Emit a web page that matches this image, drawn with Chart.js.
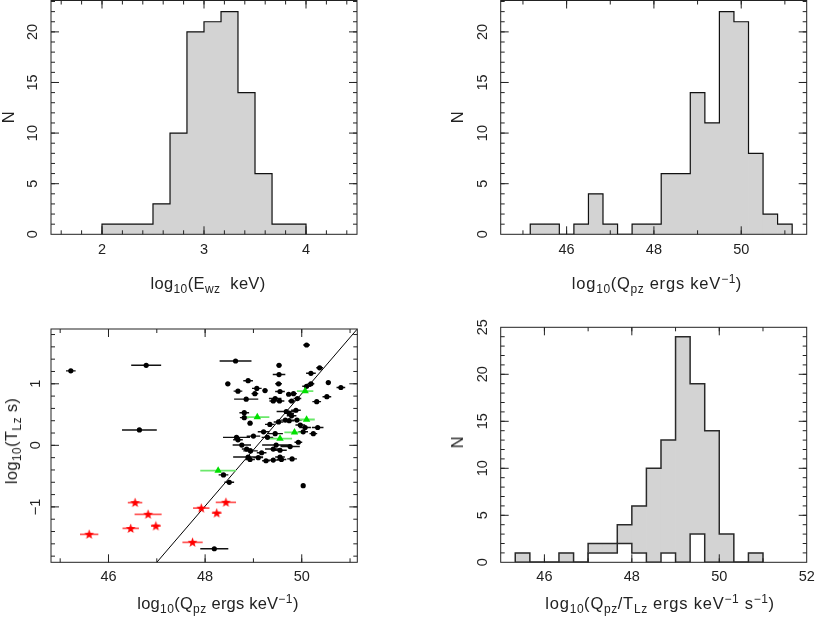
<!DOCTYPE html>
<html><head><meta charset="utf-8">
<script src="https://cdn.jsdelivr.net/npm/chart.js@4.4.1/dist/chart.umd.min.js"></script>
<style>
html,body{margin:0;padding:0;background:#fff;}
#wrap{position:relative;width:817px;height:626px;overflow:hidden;font-family:"Liberation Sans",Arial,sans-serif;color:#222;}
canvas{position:absolute;}
.t{position:absolute;font-size:16.5px;letter-spacing:0.8px;white-space:nowrap;transform:translate(-50%,-50%);line-height:18px;}
.t sub,.t sup{font-size:12px;line-height:0;letter-spacing:0.5px;}
.t sub{vertical-align:-4px;}
.t sup{vertical-align:6px;}
.r{transform:translate(-50%,-50%) rotate(-90deg);}
</style></head><body><div id="wrap">
<canvas id="c1" width="408" height="300" style="left:0;top:0"></canvas>
<canvas id="c2" width="409" height="300" style="left:408px;top:0"></canvas>
<canvas id="c3" width="408" height="326" style="left:0;top:300px"></canvas>
<canvas id="c4" width="409" height="326" style="left:408px;top:300px"></canvas>
<div class="t" style="left:208px;top:283px;letter-spacing:0.3px">log<sub>10</sub>(E<sub>wz</sub>&nbsp; keV)</div>
<div class="t" style="left:657px;top:283px">log<sub>10</sub>(Q<sub>pz</sub> ergs keV<sup>−1</sup>)</div>
<div class="t" style="left:218px;top:603px;letter-spacing:0.2px">log<sub>10</sub>(Q<sub>pz</sub> ergs keV<sup>−1</sup>)</div>
<div class="t" style="left:660px;top:603px">log<sub>10</sub>(Q<sub>pz</sub>/T<sub>Lz</sub> ergs keV<sup>−1</sup> s<sup>−1</sup>)</div>
<div class="t r" style="left:8px;top:117px">N</div>
<div class="t r" style="left:457px;top:117px">N</div>
<div class="t r" style="left:457px;top:442px">N</div>
<div class="t r" style="left:11px;top:441px;letter-spacing:0.3px">log<sub>10</sub>(T<sub>Lz</sub> s)</div>
</div>
<script>
// ---------- DATA ----------
// Panel 1: histogram of log10(E_wz keV)
const p1Edges  = [2.000, 2.167, 2.333, 2.500, 2.667, 2.833, 3.000, 3.167, 3.333, 3.500, 3.667, 3.833, 4.000];
const p1Counts = [1, 1, 1, 3, 10, 20, 21, 22, 14, 6, 1, 1];
const p1XTicks = [2, 3, 4];
const p1XLabels = ['2', '3', '4'];
const p1YTicks = [0, 5, 10, 15, 20];
const p1YLabels = ['0', '5', '10', '15', '20'];

// Panel 2: histogram of log10(Q_pz)
const p2Edges  = [45.167, 45.500, 45.833, 46.167, 46.500, 46.833, 47.167, 47.500, 47.833, 48.167,
                  48.500, 48.833, 49.167, 49.500, 49.833, 50.167, 50.500, 50.833, 51.167];
const p2Counts = [1, 1, 0, 1, 4, 1, 0, 1, 1, 6, 6, 14, 11, 22, 21, 8, 2, 1];
const p2XTicks = [46, 48, 50];
const p2XLabels = ['46', '48', '50'];
const p2YTicks = [0, 5, 10, 15, 20];
const p2YLabels = ['0', '5', '10', '15', '20'];

// Panel 3: scatter log10(Q_pz) vs log10(T_Lz)
const blackX = [50.10, 48.63, 49.53, 50.37, 49.53, 50.19, 48.89, 48.47, 49.52, 50.55,
                50.81, 50.10, 50.19, 48.68, 49.07, 49.03, 49.24, 49.55, 49.73, 49.83,
                48.85, 50.31, 50.52, 49.45, 49.54, 49.41, 49.79, 49.91, 48.81, 48.81,
                48.93, 49.68, 49.74, 49.88, 49.79, 49.52, 49.66, 49.74, 49.34, 49.90,
                49.97, 50.07, 50.33, 50.24, 50.03, 49.45, 49.21, 49.00, 48.65, 48.68,
                49.29, 49.47, 48.76, 49.76, 49.93, 48.86, 48.94, 49.41, 49.55, 49.17,
                48.89, 49.10, 49.26, 49.41, 49.55, 49.58, 49.80, 48.93, 48.38,
                45.22, 46.78, 46.64, 48.50, 50.03, 48.19];
const blackY = [1.63, 1.37, 1.30, 1.26, 1.15, 1.17, 1.05, 1.00, 1.00, 1.02,
                0.94, 0.96, 1.00, 0.88, 0.925, 0.84, 0.89, 0.875, 0.83, 0.84,
                0.75, 0.71, 0.79, 0.76, 0.72, 0.72, 0.72, 0.76, 0.53, 0.45,
                0.36, 0.55, 0.52, 0.57, 0.48, 0.38, 0.41, 0.40, 0.34, 0.41,
                0.33, 0.29, 0.29, 0.19, 0.22, 0.19, 0.22, 0.15, 0.13, 0.09,
                0.13, 0.005, 0.005, -0.02, 0.05, -0.06, -0.09, -0.06, -0.08, -0.12,
                -0.19, -0.20, -0.25, -0.24, -0.19, -0.23, -0.22, -0.23, -0.48,
                1.21, 1.30, 0.25, -0.60, -0.655, -1.68];
const blackXErr = [0.07, 0.33, 0.05, 0.07, 0.13, 0.10, 0.10, 0.05, 0.07, 0.05,
                   0.09, 0.09, 0.07, 0.09, 0.10, 0.07, 0.05, 0.10, 0.05, 0.07,
                   0.25, 0.09, 0.09, 0.13, 0.10, 0.08, 0.07, 0.08, 0.10, 0.09,
                   0.05, 0.20, 0.10, 0.10, 0.10, 0.10, 0.10, 0.10, 0.10, 0.10,
                   0.10, 0.12, 0.12, 0.08, 0.10, 0.16, 0.12, 0.14, 0.28, 0.10,
                   0.12, 0.29, 0.19, 0.20, 0.08, 0.10, 0.15, 0.17, 0.14, 0.10,
                   0.31, 0.10, 0.08, 0.19, 0.10, 0.10, 0.10, 0.10, 0.10,
                   0.10, 0.31, 0.36, 0.10, 0.03, 0.29];
const greenX = [48.27, 49.08, 49.55, 49.85, 50.10, 50.07];
const greenY = [-0.41, 0.46, 0.11, 0.21, 0.42, 0.88];
const greenXErr = [0.37, 0.25, 0.25, 0.21, 0.17, 0.17];
const redX = [45.60, 46.46, 46.55, 46.82, 46.98, 47.74, 47.92, 48.24, 48.43];
const redY = [-1.445, -1.35, -0.93, -1.12, -1.31, -1.575, -1.02, -1.10, -0.925];
const redXErr = [0.19, 0.17, 0.15, 0.28, 0.10, 0.21, 0.17, 0.10, 0.21];
const fitLineX = [47.00, 51.15];
const fitLineY = [-1.90, 1.89];
const p3XTicks = [46, 48, 50];
const p3XLabels = ['46', '48', '50'];
const p3YTicks = [-1, 0, 1];
const p3YLabels = ['−1', '0', '1'];

// Panel 4: histogram of log10(Q_pz / T_Lz)
const p4Edges  = [45.333, 45.667, 46.000, 46.333, 46.667, 47.000, 47.333, 47.667, 48.000,
                  48.333, 48.667, 49.000, 49.333, 49.667, 50.000, 50.333, 50.667, 51.000];
const p4Counts = [1, 0, 0, 1, 0, 2, 2, 4, 6, 10, 13, 24, 19, 14, 3, 0, 1];
const p4SubCounts = [0, 0, 0, 0, 0, 1, 1, 2, 1, 0, 1, 0, 3, 0, 0, 0, 0];
const p4XTicks = [46, 48, 50, 52];
const p4XLabels = ['46', '48', '50', '52'];
const p4YTicks = [0, 5, 10, 15, 20, 25];
const p4YLabels = ['0', '5', '10', '15', '20', '25'];

// ---------- HELPERS ----------
const FONT = '"Liberation Sans", Arial, sans-serif';
const INK = '#222';
function barData(edges, counts) {
  return counts.map((c, i) => ({x: (edges[i] + edges[i + 1]) / 2, y: c}));
}
function stepData(edges, counts) {
  const d = [{x: edges[0], y: 0}];
  counts.forEach((c, i) => d.push({x: edges[i], y: c}));
  d.push({x: edges[edges.length - 1], y: 0});
  return d;
}
function errData(xs, ys, es) {
  const d = [];
  xs.forEach((x, i) => { d.push({x: x - es[i], y: ys[i]}, {x: x + es[i], y: ys[i]}, {x: x, y: null}); });
  return d;
}
function ptData(xs, ys) { return xs.map((x, i) => ({x, y: ys[i]})); }
function minorVals(min, max, step) {
  const out = [];
  for (let v = Math.ceil(min / step - 1e-9) * step; v <= max + 1e-9; v += step) out.push(+v.toFixed(6));
  return out;
}
const frameTicks = {
  id: 'frameTicks',
  afterDatasetsDraw(chart, args, o) {
    const {ctx, chartArea: a, scales: {x, y}} = chart;
    ctx.save();
    ctx.strokeStyle = INK; ctx.lineWidth = 1;
    ctx.beginPath();
    const xt = (vals, len) => vals.forEach(v => {
      const p = x.getPixelForValue(v);
      if (p < a.left + 0.5 || p > a.right - 0.5) return;
      ctx.moveTo(p, a.bottom); ctx.lineTo(p, a.bottom - len);
      ctx.moveTo(p, a.top); ctx.lineTo(p, a.top + len);
    });
    const yt = (vals, len) => vals.forEach(v => {
      const p = y.getPixelForValue(v);
      if (p < a.top + 0.5 || p > a.bottom - 0.5) return;
      ctx.moveTo(a.left, p); ctx.lineTo(a.left + len, p);
      ctx.moveTo(a.right, p); ctx.lineTo(a.right - len, p);
    });
    xt(minorVals(x.min, x.max, o.xMinor), 4);
    xt(x.ticks.map(t => t.value), 8);
    yt(minorVals(y.min, y.max, o.yMinor), 4);
    yt(y.ticks.map(t => t.value), 8);
    ctx.stroke();
    ctx.strokeRect(a.left, a.top, a.right - a.left, a.bottom - a.top);
    ctx.restore();
  }
};
// box = [canvasW, canvasH, areaLeft, areaTop, areaRight, areaBottom]
function xAxis(box, min, max, ticks, labels, padding) {
  return {
    type: 'linear', min, max, offset: false,
    grid: {display: false, drawTicks: false}, border: {display: false},
    afterBuildTicks: s => { s.ticks = ticks.map(v => ({value: v})); },
    afterFit: s => { s.height = box[1] - box[5]; s.paddingLeft = 0; s.paddingRight = 0; },
    ticks: {autoSkip: false, minRotation: 0, maxRotation: 0, padding, color: INK,
            font: {family: FONT, size: 14.5}, callback: (v, i) => labels[i]}
  };
}
function yAxis(box, min, max, ticks, labels, padding) {
  return {
    type: 'linear', min, max,
    grid: {display: false, drawTicks: false}, border: {display: false},
    afterBuildTicks: s => { s.ticks = ticks.map(v => ({value: v})); },
    afterFit: s => { s.width = box[2]; s.paddingTop = 0; s.paddingBottom = 0; },
    ticks: {autoSkip: false, minRotation: 90, maxRotation: 90, crossAlign: 'center', padding, color: INK,
            font: {family: FONT, size: 14.5}, callback: (v, i) => labels[i]}
  };
}
function baseOpts(box, xs, ys, xMinor, yMinor) {
  return {
    responsive: false, animation: false, devicePixelRatio: 1,
    layout: {padding: {left: 0, top: box[3], right: box[0] - box[4], bottom: 0}},
    plugins: {legend: {display: false}, tooltip: {enabled: false}, frameTicks: {xMinor, yMinor}},
    scales: {x: xs, y: ys}
  };
}
const GRAY = '#d3d3d3';
function histSets(edges, counts, fill, outline, ordBase, lw) {
  return [
    {type: 'bar', data: barData(edges, counts), backgroundColor: fill, borderWidth: 0,
     barPercentage: 1, categoryPercentage: 1, grouped: false, order: ordBase + 1},
    {type: 'line', data: stepData(edges, counts), stepped: 'before', borderColor: outline,
     borderWidth: lw, pointRadius: 0, fill: false, order: ordBase}
  ];
}

// ---------- PANEL 1 ----------
const b1 = [408, 300, 51, 0.5, 357, 234.3];
new Chart(document.getElementById('c1'), {
  type: 'bar',
  data: {datasets: histSets(p1Edges, p1Counts, GRAY, '#111', 1, 1.2)},
  options: baseOpts(b1, xAxis(b1, 1.5, 4.5, p1XTicks, p1XLabels, 7), yAxis(b1, 0, 23.1, p1YTicks, p1YLabels, 10), 0.2, 1),
  plugins: [frameTicks]
});

// ---------- PANEL 2 ----------
const b2 = [409, 300, 92.7, 0.5, 398.7, 234.3];
new Chart(document.getElementById('c2'), {
  type: 'bar',
  data: {datasets: histSets(p2Edges, p2Counts, GRAY, '#111', 1, 1.2)},
  options: baseOpts(b2, xAxis(b2, 44.49, 51.5, p2XTicks, p2XLabels, 7), yAxis(b2, 0, 23.1, p2YTicks, p2YLabels, 10), 1, 1),
  plugins: [frameTicks]
});

// ---------- PANEL 3 ----------
const starImg = (() => {
  const c = document.createElement('canvas'); c.width = 11; c.height = 11;
  const g = c.getContext('2d'); g.fillStyle = '#ff0000'; g.beginPath();
  for (let k = 0; k < 10; k++) {
    const r = k % 2 ? 2.1 : 5.2, a = -Math.PI / 2 + k * Math.PI / 5;
    const px = 5.5 + r * Math.cos(a), py = 5.8 + r * Math.sin(a);
    k ? g.lineTo(px, py) : g.moveTo(px, py);
  }
  g.closePath(); g.fill();
  return c;
})();
const b3 = [408, 326, 51, 29, 357.3, 262.3];
new Chart(document.getElementById('c3'), {
  type: 'scatter',
  data: {datasets: [
    {data: ptData(fitLineX, fitLineY), showLine: true, borderColor: '#000', borderWidth: 1, pointRadius: 0, order: 8},
    {data: errData(blackX, blackY, blackXErr), showLine: true, spanGaps: false, borderColor: '#111', borderWidth: 1.4, pointRadius: 0, order: 7},
    {data: errData(greenX, greenY, greenXErr), showLine: true, spanGaps: false, borderColor: '#6be86b', borderWidth: 1.8, pointRadius: 0, order: 6},
    {data: errData(redX, redY, redXErr), showLine: true, spanGaps: false, borderColor: '#ff5a5a', borderWidth: 1.8, pointRadius: 0, order: 5},
    {data: ptData(blackX, blackY), pointRadius: 2.6, pointBackgroundColor: '#000', pointBorderWidth: 0, order: 4},
    {data: ptData(greenX, greenY), pointStyle: 'triangle', pointRadius: 4.3, pointBackgroundColor: '#00e000', pointBorderWidth: 0, order: 3},
    {data: ptData(redX, redY), pointStyle: starImg, pointRadius: 5, order: 2}
  ]},
  options: baseOpts(b3, xAxis(b3, 44.81, 51.15, p3XTicks, p3XLabels, 6), yAxis(b3, -1.9, 1.89, p3YTicks, p3YLabels, 7), 1, 0.2),
  plugins: [frameTicks]
});

// ---------- PANEL 4 ----------
const b4 = [409, 326, 92.7, 27.3, 398.7, 262.3];
new Chart(document.getElementById('c4'), {
  type: 'bar',
  data: {datasets: [
    ...histSets(p4Edges, p4Counts, GRAY, '#2a2a2a', 3, 1.5),
    ...histSets(p4Edges, p4SubCounts, '#ffffff', '#2a2a2a', 1, 1.5)
  ]},
  options: baseOpts(b4, xAxis(b4, 45, 52, p4XTicks, p4XLabels, 6), yAxis(b4, 0, 25, p4YTicks, p4YLabels, 10), 1, 1),
  plugins: [frameTicks]
});
</script>
</body></html>
